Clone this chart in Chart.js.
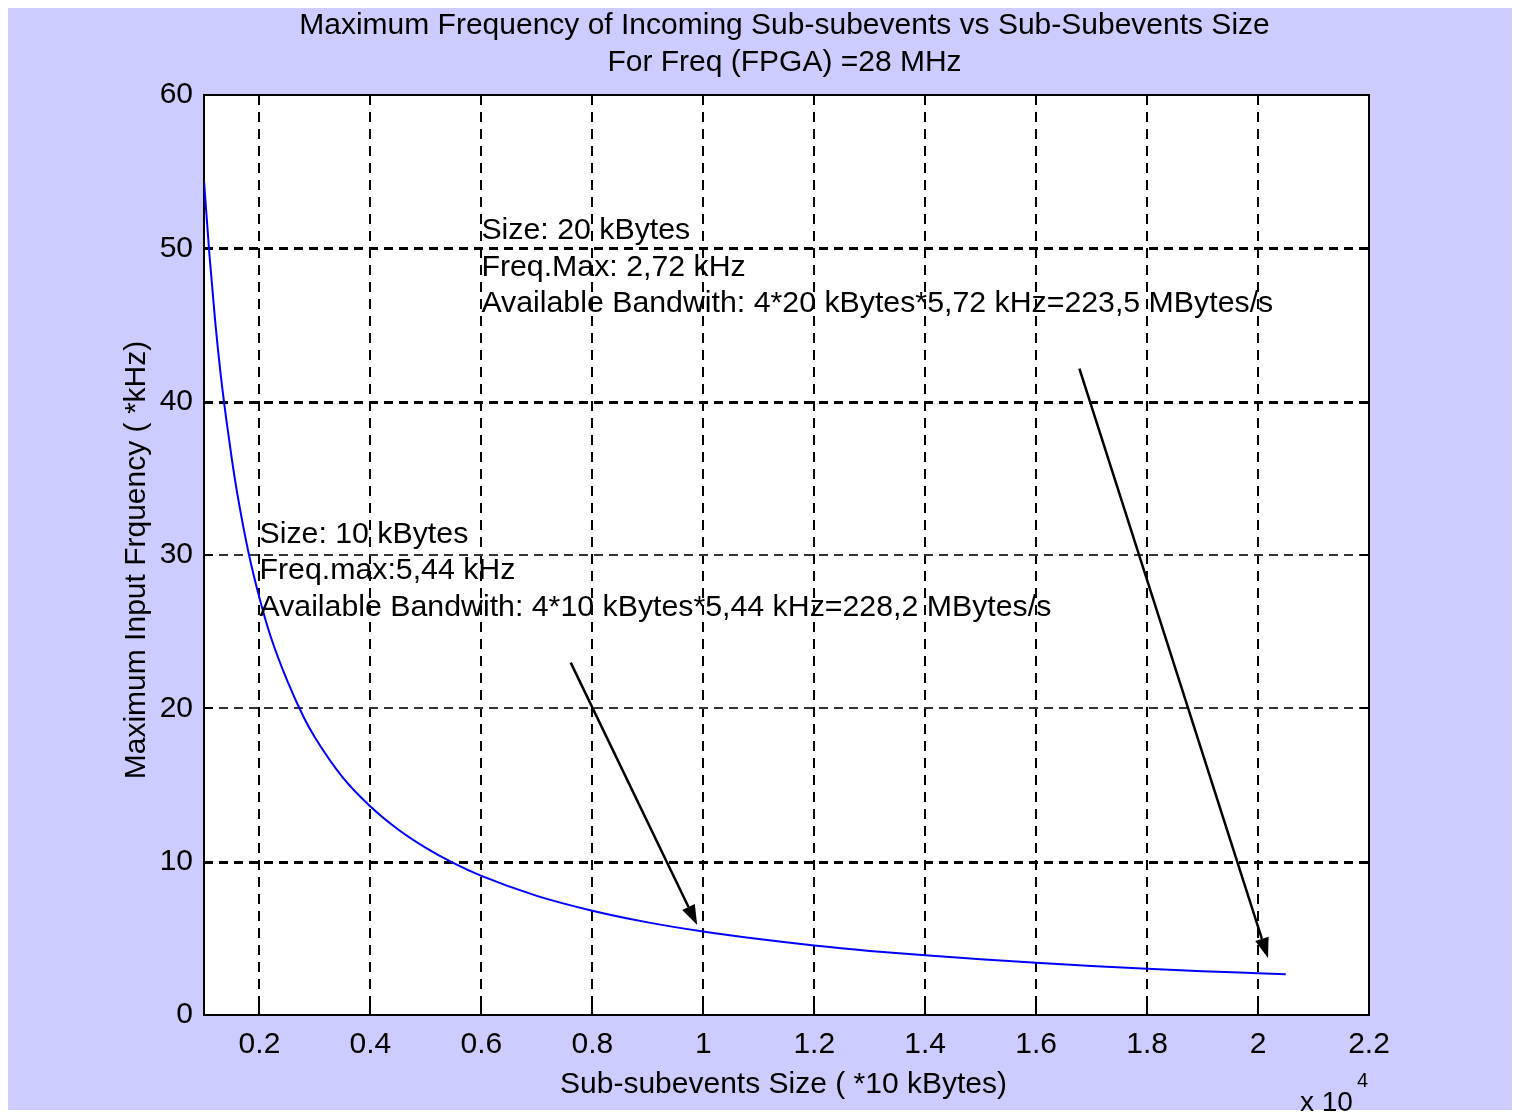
<!DOCTYPE html>
<html>
<head>
<meta charset="utf-8">
<title>Maximum Frequency of Incoming Sub-subevents</title>
<script src="https://cdn.jsdelivr.net/npm/chart.js@4.4.0/dist/chart.umd.min.js"></script>
<style>
  html, body { margin: 0; padding: 0; background: #ffffff; }
  #wrap { position: relative; width: 1513px; height: 1112px; }
</style>
</head>
<body>
<div id="wrap"><canvas id="c" width="1513" height="1112"></canvas></div>
<script>
// Sub-subevent size, in units of 10^4 bytes
const sizes = [0.10, 0.11, 0.12, 0.13, 0.14, 0.15, 0.16, 0.18, 0.20, 0.22, 0.25, 0.28,
               0.30, 0.35, 0.40, 0.45, 0.50, 0.55, 0.60, 0.70, 0.80, 0.90, 1.00, 1.10,
               1.20, 1.30, 1.40, 1.50, 1.60, 1.70, 1.80, 1.90, 2.00, 2.05];
// Maximum input frequency at each size, kHz
const maxFreq = [54.4, 49.5, 45.3, 41.8, 38.9, 36.3, 34.0, 30.2, 27.2, 24.7, 21.8, 19.4,
                 18.1, 15.5, 13.6, 12.1, 10.9, 9.9, 9.07, 7.77, 6.8, 6.04, 5.44, 4.95,
                 4.53, 4.18, 3.89, 3.63, 3.40, 3.20, 3.02, 2.86, 2.72, 2.65];

const xTickValues = [0.2, 0.4, 0.6, 0.8, 1.0, 1.2, 1.4, 1.6, 1.8, 2.0, 2.2];
const xTickLabels = ['0.2', '0.4', '0.6', '0.8', '1', '1.2', '1.4', '1.6', '1.8', '2', '2.2'];
const yTickValues = [0, 10, 20, 30, 40, 50, 60];
const yTickLabels = ['0', '10', '20', '30', '40', '50', '60'];

const titleLines = ['Maximum Frequency of Incoming Sub-subevents vs Sub-Subevents Size',
                    'For Freq (FPGA) =28 MHz'];
const xAxisTitle = 'Sub-subevents Size ( *10 kBytes)';
const yAxisTitle = 'Maximum Input Frquency ( *kHz)';
const xExponentBase = 'x 10';
const xExponent = '4';

const note10k = ['Size: 10 kBytes', 'Freq.max:5,44 kHz',
                 'Available Bandwith: 4*10 kBytes*5,44 kHz=228,2 MBytes/s'];
const note20k = ['Size: 20 kBytes', 'Freq.Max: 2,72 kHz',
                 'Available Bandwith: 4*20 kBytes*5,72 kHz=223,5 MBytes/s'];
// Where each note sits, in data units: left edge, baseline of its first line
const noteAnchors = [[0.20, 30.8], [0.60, 50.6]];
// Arrows pointing at the two sizes, in data units
const arrowTails = [[0.761, 22.98], [1.678, 42.16]];
const arrowHeads = [[0.989, 5.87], [2.018, 3.72]];

const FONT = '"Liberation Sans", Arial, Helvetica, sans-serif';
const LAVENDER = '#ccccff';

// Figure background, white axes box
const figureBackground = {
  id: 'figureBackground',
  beforeDraw(chart) {
    const { ctx, width, height, chartArea: a } = chart;
    ctx.save();
    ctx.fillStyle = '#ffffff';
    ctx.fillRect(0, 0, width, height);
    ctx.fillStyle = LAVENDER;
    ctx.fillRect(8, 8, width - 9, height - 10);
    ctx.fillStyle = '#ffffff';
    ctx.fillRect(a.left, a.top, a.right - a.left, a.bottom - a.top);
    ctx.restore();
  }
};

// Dashed grid, inward tick marks and the closed axes box
const axesBox = {
  id: 'axesBox',
  beforeDatasetsDraw(chart) {
    const { ctx, chartArea: a, scales } = chart;
    const xs = scales.x, ys = scales.y;
    const heavyRows = [10, 40, 50];
    ctx.save();
    ctx.strokeStyle = '#000';
    ctx.lineWidth = 2;
    ctx.setLineDash([10, 7]);
    xTickValues.forEach(v => {
      const px = Math.round(xs.getPixelForValue(v));
      if (px <= a.left + 1 || px >= a.right - 1) return;
      ctx.beginPath(); ctx.moveTo(px, a.top); ctx.lineTo(px, a.bottom); ctx.stroke();
    });
    ctx.setLineDash([9, 6]);
    yTickValues.forEach(v => {
      const py = Math.round(ys.getPixelForValue(v));
      if (py <= a.top + 1 || py >= a.bottom - 1) return;
      ctx.lineWidth = heavyRows.includes(v) ? 3 : 2;
      ctx.strokeStyle = heavyRows.includes(v) ? '#000' : '#333';
      ctx.beginPath(); ctx.moveTo(a.left, py + (ctx.lineWidth === 3 ? 0.5 : 0)); ctx.lineTo(a.right, py + (ctx.lineWidth === 3 ? 0.5 : 0)); ctx.stroke();
    });
    ctx.setLineDash([]);
    ctx.lineWidth = 2;
    ctx.strokeStyle = '#000';
    const tl = 9;
    xTickValues.forEach(v => {
      const px = Math.round(xs.getPixelForValue(v));
      ctx.beginPath();
      ctx.moveTo(px, a.bottom); ctx.lineTo(px, a.bottom - tl);
      ctx.moveTo(px, a.top); ctx.lineTo(px, a.top + tl);
      ctx.stroke();
    });
    yTickValues.forEach(v => {
      const py = Math.round(ys.getPixelForValue(v));
      ctx.beginPath();
      ctx.moveTo(a.left, py); ctx.lineTo(a.left + tl, py);
      ctx.moveTo(a.right, py); ctx.lineTo(a.right - tl, py);
      ctx.stroke();
    });
    ctx.strokeRect(a.left, a.top, a.right - a.left, a.bottom - a.top);
    ctx.restore();
  }
};

// Titles, axis labels, notes and arrows
const annotations = {
  id: 'annotations',
  afterDatasetsDraw(chart) {
    const { ctx, chartArea: a, scales } = chart;
    const xs = scales.x, ys = scales.y;
    const cx = (a.left + a.right) / 2;
    ctx.save();
    ctx.fillStyle = '#000';
    ctx.strokeStyle = '#000';
    ctx.font = '30px ' + FONT;
    ctx.textBaseline = 'alphabetic';

    ctx.textAlign = 'center';
    ctx.fillText(titleLines[0], cx - 2, 34);
    ctx.fillText(titleLines[1], cx - 2, 71);
    ctx.fillText(xAxisTitle, cx - 3, 1093);

    ctx.save();
    ctx.translate(145, 560);
    ctx.rotate(-Math.PI / 2);
    ctx.fillText(yAxisTitle, 0, 0);
    ctx.restore();

    ctx.textAlign = 'left';
    ctx.font = '28px ' + FONT;
    ctx.fillText(xExponentBase, 1300, 1111);
    ctx.font = '20px ' + FONT;
    ctx.fillText(xExponent, 1357, 1087);

    ctx.font = '30.3px ' + FONT;
    [note10k, note20k].forEach((lines, i) => {
      const x0 = xs.getPixelForValue(noteAnchors[i][0]);
      const y0 = ys.getPixelForValue(noteAnchors[i][1]);
      lines.forEach((t, k) => ctx.fillText(t, x0, y0 + k * 36.5));
    });

    ctx.lineWidth = 2.5;
    arrowTails.forEach((tail, i) => {
      const x1 = xs.getPixelForValue(tail[0]), y1 = ys.getPixelForValue(tail[1]);
      const x2 = xs.getPixelForValue(arrowHeads[i][0]), y2 = ys.getPixelForValue(arrowHeads[i][1]);
      const ang = Math.atan2(y2 - y1, x2 - x1);
      const hl = 20, hw = 7;
      const bx = x2 - hl * Math.cos(ang), by = y2 - hl * Math.sin(ang);
      ctx.beginPath(); ctx.moveTo(x1, y1); ctx.lineTo(bx, by); ctx.stroke();
      ctx.beginPath();
      ctx.moveTo(x2, y2);
      ctx.lineTo(bx + hw * Math.sin(ang), by - hw * Math.cos(ang));
      ctx.lineTo(bx - hw * Math.sin(ang), by + hw * Math.cos(ang));
      ctx.closePath(); ctx.fill();
    });
    ctx.restore();
  }
};

const points = sizes.map((s, i) => ({ x: s, y: maxFreq[i] }));

new Chart(document.getElementById('c'), {
  type: 'line',
  data: {
    datasets: [{
      data: points,
      borderColor: '#0000ff',
      borderWidth: 2,
      pointRadius: 0,
      fill: false,
      cubicInterpolationMode: 'monotone'
    }]
  },
  options: {
    responsive: false,
    devicePixelRatio: 1,
    animation: false,
    events: [],
    layout: { padding: { left: 0, top: 95, right: 144, bottom: 0 } },
    plugins: { legend: { display: false }, tooltip: { enabled: false }, title: { display: false } },
    scales: {
      x: {
        type: 'linear',
        min: 0.1, max: 2.2,
        grid: { display: false },
        border: { display: false },
        afterBuildTicks: s => { s.ticks = xTickValues.map(v => ({ value: v })); },
        afterFit: s => { s.height = 97; },
        ticks: {
          autoSkip: false, maxRotation: 0, padding: 4,
          color: '#000', font: { family: FONT, size: 30 },
          callback: (v, i) => xTickLabels[i]
        }
      },
      y: {
        type: 'linear',
        min: 0, max: 60,
        grid: { display: false },
        border: { display: false },
        afterBuildTicks: s => { s.ticks = yTickValues.map(v => ({ value: v })); },
        afterFit: s => { s.width = 204; },
        ticks: {
          autoSkip: false, padding: 3,
          color: '#000', font: { family: FONT, size: 30 },
          callback: (v, i) => yTickLabels[i]
        }
      }
    }
  },
  plugins: [figureBackground, axesBox, annotations]
});
</script>
</body>
</html>
